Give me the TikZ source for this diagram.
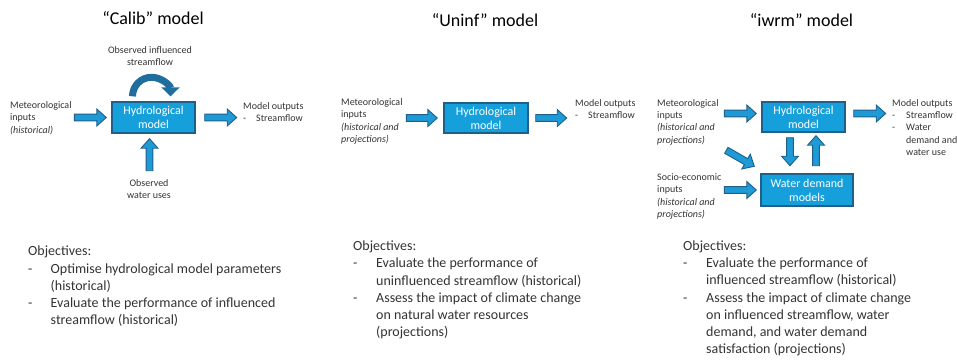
\documentclass[tikz,border=0pt]{standalone}
\usepackage{fontspec}
\setmainfont{Carlito}
\usetikzlibrary{calc,arrows.meta}
\definecolor{boxblue}{HTML}{15A0DB}
\definecolor{boxline}{HTML}{1F5F8A}
\definecolor{arrblue}{HTML}{1E9AD6}
\definecolor{curvblue}{HTML}{1F6E9E}
\definecolor{txtgray}{HTML}{333333}
\tikzset{
  modelbox/.style={draw=boxline, line width=1.4pt, fill=boxblue, text=white, align=center, font=\fontsize{12}{14}\selectfont, inner sep=0pt},
  smalltext/.style={align=left, text=txtgray, font=\fontsize{10}{12.3}\selectfont, inner sep=0pt},
  titletext/.style={font=\fontsize{18}{21}\selectfont, inner sep=0pt},
  objtext/.style={align=left, text=txtgray, font=\fontsize{14}{17.2}\selectfont, inner sep=0pt},
  fatarr/.style={draw=boxline, fill=arrblue, line width=0.9pt, line join=miter},
  curvarr/.style={curvblue, line width=7pt, -{Triangle[length=9pt,width=18pt]}}
}
\newcommand{\fatarrow}[2]{%
  \path #1 coordinate (fa-s) #2 coordinate (fa-e);
  \coordinate (fa-b) at ($(fa-e)!9.5pt!(fa-s)$);
  \draw[fatarr] ($(fa-s)!3.4pt!90:(fa-e)$) -- ($(fa-b)!3.4pt!90:(fa-e)$) -- ($(fa-b)!8.5pt!90:(fa-e)$) -- (fa-e) -- ($(fa-b)!8.5pt!-90:(fa-e)$) -- ($(fa-b)!3.4pt!-90:(fa-e)$) -- ($(fa-s)!3.4pt!-90:(fa-e)$) -- cycle;}
\newcommand{\dashitem}[1]{\makebox[#1][l]{-}}
\begin{document}
\begin{tikzpicture}[x=1pt, y=-1pt]
\useasboundingbox (0,0) rectangle (957,361);
\node[titletext] (tcalib) at (153,18){“Calib” model};
\node[modelbox, minimum width=83pt, minimum height=31pt] (hyd1) at (153.5,117.5){Hydrological\\model};
\node[smalltext, anchor=west] (met1) at (10,118){Meteorological\\inputs\\\textit{(historical)}};
\node[smalltext, align=center] (obsinf) at (150,56){Observed influenced\\streamflow};
\node[smalltext, align=center] (obswat) at (149,189){Observed\\water uses};
\node[smalltext, anchor=west] (out1) at (243,112){Model outputs\\\dashitem{13pt}Streamflow};
\fatarrow{($(hyd1.west)+(-37,0)$)}{($(hyd1.west)+(-5,0)$)}
\fatarrow{($(hyd1.east)+(9,0)$)}{($(hyd1.east)+(41,0)$)}
\fatarrow{($(hyd1.south)+(-4,37)$)}{($(hyd1.south)+(-4,5)$)}
\draw[curvarr] ($(hyd1.north)+(-21,-5)$) arc[start angle=180, end angle=360, radius=19];
\node[titletext] (tuninf) at (485,20){“Uninf” model};
\node[modelbox, minimum width=84pt, minimum height=30pt] (hyd2) at (486,118){Hydrological\\model};
\node[smalltext, anchor=west] (met2) at (341,121.5){Meteorological\\inputs\\\textit{(historical and}\\\textit{projections)}};
\node[smalltext, anchor=west] (out2) at (575,109){Model outputs\\\dashitem{13pt}Streamflow};
\fatarrow{($(hyd2.west)+(-37,0)$)}{($(hyd2.west)+(-6,0)$)}
\fatarrow{($(hyd2.east)+(7,0)$)}{($(hyd2.east)+(38,0)$)}
\node[titletext] (tiwrm) at (801.5,20){“iwrm” model};
\node[modelbox, minimum width=83pt, minimum height=30pt] (hyd3) at (803.5,117){Hydrological\\model};
\node[modelbox, minimum width=92pt, minimum height=32pt] (wdm3) at (807,190){Water demand\\models};
\node[smalltext, anchor=west] (met3) at (657,122){Meteorological\\inputs\\\textit{(historical and}\\\textit{projections)}};
\node[smalltext, anchor=west] (soc3) at (657,196.5){Socio-economic\\inputs\\\textit{(historical and}\\\textit{projections)}};
\node[smalltext, anchor=west] (out3) at (892,127.5){Model outputs\\\dashitem{14pt}Streamflow\\\dashitem{14pt}Water\\\hspace*{14pt}demand and\\\hspace*{14pt}water use};
\fatarrow{($(hyd3.west)+(-37,-3.5)$)}{($(hyd3.west)+(-5,-3.5)$)}
\fatarrow{($(hyd3.east)+(8,-3.5)$)}{($(hyd3.east)+(40,-3.5)$)}
\fatarrow{($(wdm3.west)+(-36,0)$)}{($(wdm3.west)+(-4,0)$)}
\fatarrow{($(wdm3.north west)+(-34,-23)$)}{($(wdm3.north west)+(-6,-7)$)}
\fatarrow{($(hyd3.south)+(-13.5,5)$)}{($(hyd3.south)+(-13.5,33)$)}
\fatarrow{($(hyd3.south)+(12.5,33)$)}{($(hyd3.south)+(12.5,3)$)}
\node[objtext, anchor=west] (obj1) at (28,286.5){Objectives:\\\dashitem{22.5pt}Optimise hydrological model parameters\\\hspace*{22.5pt}(historical)\\\dashitem{22.5pt}Evaluate the performance of influenced\\\hspace*{22.5pt}streamflow (historical)};
\node[objtext, anchor=west] (obj2) at (353,290){Objectives:\\\dashitem{23pt}Evaluate the performance of\\\hspace*{23pt}uninfluenced streamflow (historical)\\\dashitem{23pt}Assess the impact of climate change\\\hspace*{23pt}on natural water resources\\\hspace*{23pt}(projections)};
\node[objtext, anchor=west] (obj3) at (683,298.5){Objectives:\\\dashitem{23pt}Evaluate the performance of\\\hspace*{23pt}influenced streamflow (historical)\\\dashitem{23pt}Assess the impact of climate change\\\hspace*{23pt}on influenced streamflow, water\\\hspace*{23pt}demand, and water demand\\\hspace*{23pt}satisfaction (projections)};
\end{tikzpicture}
\end{document}
